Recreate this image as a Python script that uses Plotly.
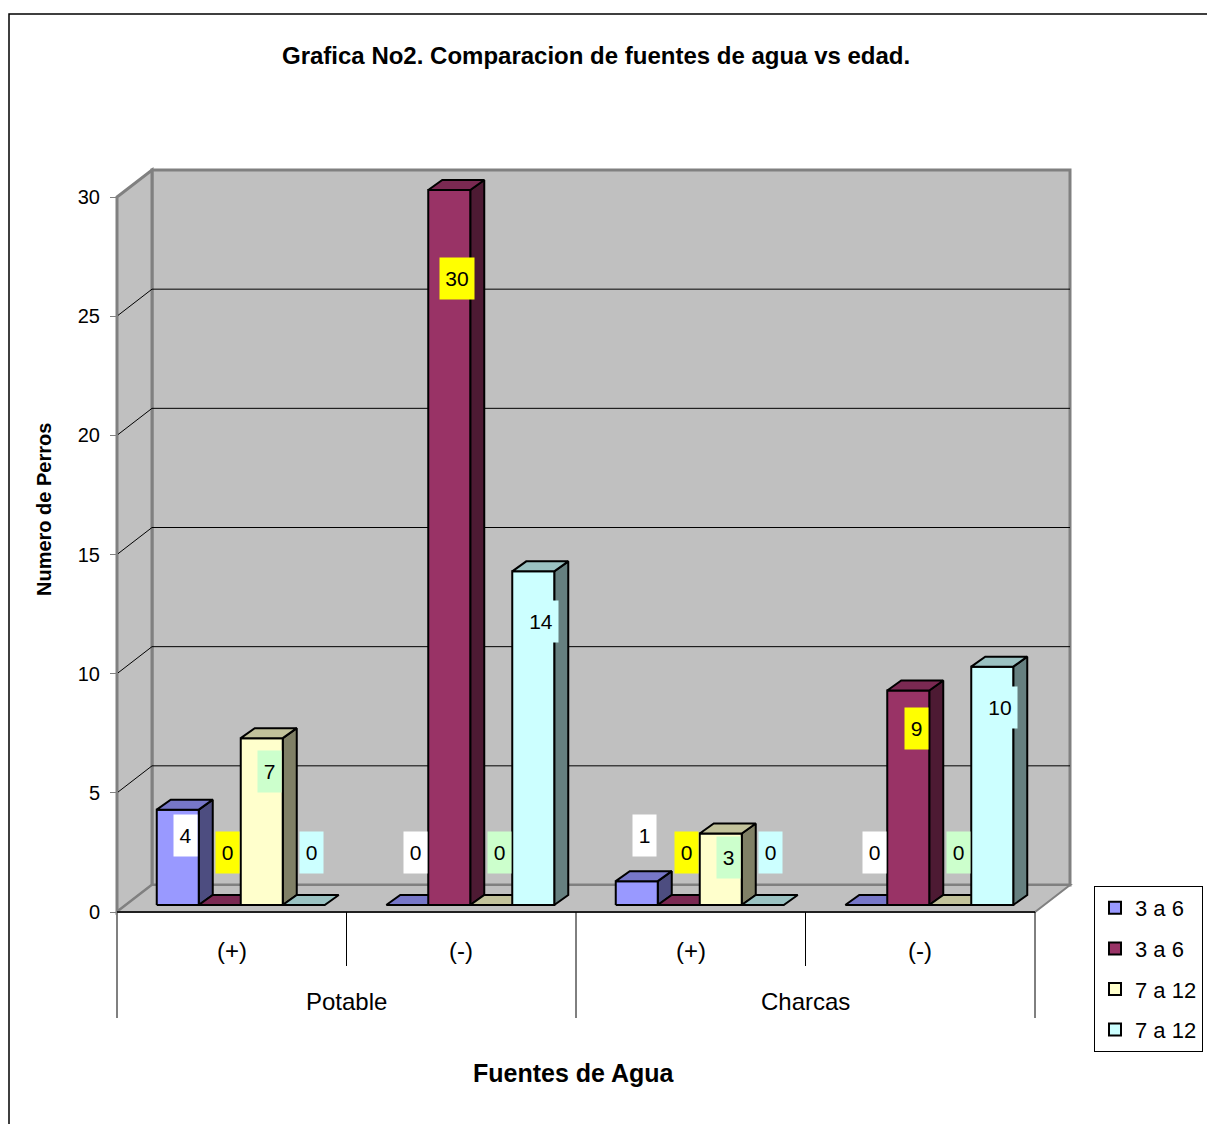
import plotly.graph_objects as go

# ---------------- data ----------------
groups = ["Potable", "Charcas"]
subcats = ["(+)", "(-)", "(+)", "(-)"]
series_names = ["3 a 6", "3 a 6", "7 a 12", "7 a 12"]
serie_1 = [4, 0, 1, 0]
serie_2 = [0, 30, 0, 9]
serie_3 = [7, 0, 3, 0]
serie_4 = [0, 14, 0, 10]
y_ticks = [0, 5, 10, 15, 20, 25, 30]
title = "Grafica No2. Comparacion de fuentes de agua vs edad."
x_title = "Fuentes de Agua"
y_title = "Numero de Perros"

series = [serie_1, serie_2, serie_3, serie_4]

# ---------------- style ----------------
FRONT = ["#9999FF", "#993366", "#FFFFCC", "#CCFFFF"]
TOP = ["#7777C8", "#7A2952", "#C2C29B", "#9BC2C2"]
SIDE = ["#4D4D80", "#4D1A33", "#808066", "#668080"]
LABEL_BG = ["#FFFFFF", "#FFFF00", "#CCFFCC", "#CCFFFF"]
WALL = "#C0C0C0"
WALL_EDGE = "#808080"
FONT = "Liberation Sans, Arial, sans-serif"

W, H = 1207, 1124
X0_PX, X1_PX = 117, 1035
Y0_PX, YTOP_PX = 912, 197
NG = len(subcats)
YMAX = y_ticks[-1]
PX_U = (X1_PX - X0_PX) / NG
PX_V = (Y0_PX - YTOP_PX) / YMAX

# 3D offsets (in axis units)
WDX, WDY = 35 / PX_U, 27 / PX_V     # wall depth
BOX, BOY = 9 / PX_U, 7 / PX_V       # bar plane offset
BDX, BDY = 14 / PX_U, 10 / PX_V     # bar depth
BW = 42 / PX_U                      # bar width
GAP = (1 - len(series) * BW) / 2

xr = [-X0_PX / PX_U, (W - X0_PX) / PX_U]
yr = [-(H - Y0_PX) / PX_V, Y0_PX / PX_V]


def py(px):
    return 1 - px / H


def poly(xs, ys, color):
    return go.Scatter(x=xs + [xs[0]], y=ys + [ys[0]], mode="lines", fill="toself",
                      fillcolor=color, line=dict(color="black", width=2),
                      hoverinfo="skip", showlegend=False)


fig = go.Figure()
annotations = []

for g in range(NG):
    for s, vals in enumerate(series):
        v = vals[g]
        x0 = g + GAP + s * BW + BOX
        x1 = x0 + BW
        b = BOY
        t = BOY + v
        if v > 0:
            fig.add_trace(poly([x1, x1 + BDX, x1 + BDX, x1], [b, b + BDY, t + BDY, t], SIDE[s]))
            fig.add_trace(poly([x0, x1, x1, x0], [b, b, t, t], FRONT[s]))
        fig.add_trace(poly([x0, x1, x1 + BDX, x0 + BDX], [t, t, t + BDY, t + BDY], TOP[s]))
        lab_v = 0.9 * v - 0.4 if v >= 3 else 2.5 + 0.7 * v
        txt = str(v)
        annotations.append(dict(
            x=(x0 + x1) / 2 + 8 / PX_U, y=lab_v, xref="x", yref="y", text=txt,
            xanchor="center", yanchor="middle",
            showarrow=False, bgcolor=LABEL_BG[s], borderpad=2,
            width=11 * len(txt) + 8, height=37,
            font=dict(family=FONT, size=21, color="black")))

# legend entries
for s in range(len(series)):
    fig.add_trace(go.Bar(x=[None], y=[None], name=series_names[s],
                         marker=dict(color=FRONT[s], line=dict(color="black", width=2)),
                         legendgroup=str(s)))

shapes = []
# back wall
shapes.append(dict(type="rect", xref="x", yref="y", x0=WDX, x1=NG + WDX, y0=WDY, y1=YMAX + WDY,
                   fillcolor=WALL, line=dict(color=WALL_EDGE, width=3), layer="below"))
# left wall
shapes.append(dict(type="path", xref="x", yref="y",
                   path=f"M0,0 L{WDX},{WDY} L{WDX},{YMAX + WDY} L0,{YMAX} Z",
                   fillcolor=WALL, line=dict(color=WALL_EDGE, width=3), layer="below"))
# floor
shapes.append(dict(type="path", xref="x", yref="y",
                   path=f"M0,0 L{NG},0 L{NG + WDX},{WDY} L{WDX},{WDY} Z",
                   fillcolor=WALL, line=dict(color=WALL_EDGE, width=2), layer="below"))
# grid lines
for v in y_ticks[1:-1]:
    shapes.append(dict(type="path", xref="x", yref="y",
                       path=f"M0,{v} L{WDX},{v + WDY} L{NG + WDX},{v + WDY}",
                       line=dict(color="black", width=1), layer="below"))
# value axis line + left divider
shapes.append(dict(type="line", xref="x", yref="y", x0=0, x1=0, y0=YMAX,
                   y1=-(1018 - Y0_PX) / PX_V, line=dict(color=WALL_EDGE, width=2)))
# category axis line
shapes.append(dict(type="line", xref="x", yref="y", x0=0, x1=NG, y0=0, y1=0,
                   line=dict(color="black", width=1.5)))
# category dividers
for k in range(1, NG + 1):
    low = 1018 if k % 2 == 0 else 966
    shapes.append(dict(type="line", xref="x", yref="y", x0=k, x1=k, y0=0,
                       y1=-(low - Y0_PX) / PX_V, line=dict(color="black", width=1)))
# outer border
shapes.append(dict(type="rect", xref="paper", yref="paper", x0=9 / W, x1=1.01,
                   y0=-0.01, y1=py(14), line=dict(color="black", width=1.5)))

# category labels
for k, lab in enumerate(subcats):
    annotations.append(dict(x=k + 0.5, y=-(950 - Y0_PX) / PX_V, xref="x", yref="y",
                            text=lab, showarrow=False, xanchor="center", yanchor="middle",
                            font=dict(family=FONT, size=24, color="black")))
for k, lab in enumerate(groups):
    annotations.append(dict(x=2 * k + 1, y=-(1001 - Y0_PX) / PX_V, xref="x", yref="y",
                            text=lab, showarrow=False, xanchor="center", yanchor="middle",
                            font=dict(family=FONT, size=24, color="black")))

annotations.append(dict(x=596 / W, y=py(55), xref="paper", yref="paper", text=f"<b>{title}</b>",
                        xanchor="center", yanchor="middle",
                        showarrow=False, font=dict(family=FONT, size=24, color="black")))
annotations.append(dict(x=574 / W, y=py(1073), xref="paper", yref="paper", text=f"<b>{x_title}</b>",
                        xanchor="center", yanchor="middle",
                        showarrow=False, font=dict(family=FONT, size=25, color="black")))
annotations.append(dict(x=44 / W, y=py(510), xref="paper", yref="paper", text=f"<b>{y_title}</b>",
                        xanchor="center", yanchor="middle",
                        textangle=-90, showarrow=False,
                        font=dict(family=FONT, size=20, color="black")))

fig.update_layout(
    width=W, height=H,
    margin=dict(l=0, r=0, t=0, b=0),
    paper_bgcolor="white", plot_bgcolor="white",
    showlegend=True,
    legend=dict(x=1094 / W, y=py(886), xanchor="left", yanchor="top",
                bordercolor="black", borderwidth=1, bgcolor="white",
                font=dict(family=FONT, size=22, color="black"),
                tracegroupgap=9, itemwidth=30),
    xaxis=dict(range=xr, visible=False, fixedrange=True),
    yaxis=dict(range=yr, anchor="free", position=X0_PX / W, tickvals=y_ticks,
               ticks="outside", ticklen=7, tickcolor=WALL_EDGE, tickwidth=1,
               showgrid=False, zeroline=False, showline=False,
               tickfont=dict(family=FONT, size=20, color="black"),
               ticklabelstandoff=6, fixedrange=True),
    shapes=shapes,
    annotations=annotations,
)

fig.write_html("out.html")
